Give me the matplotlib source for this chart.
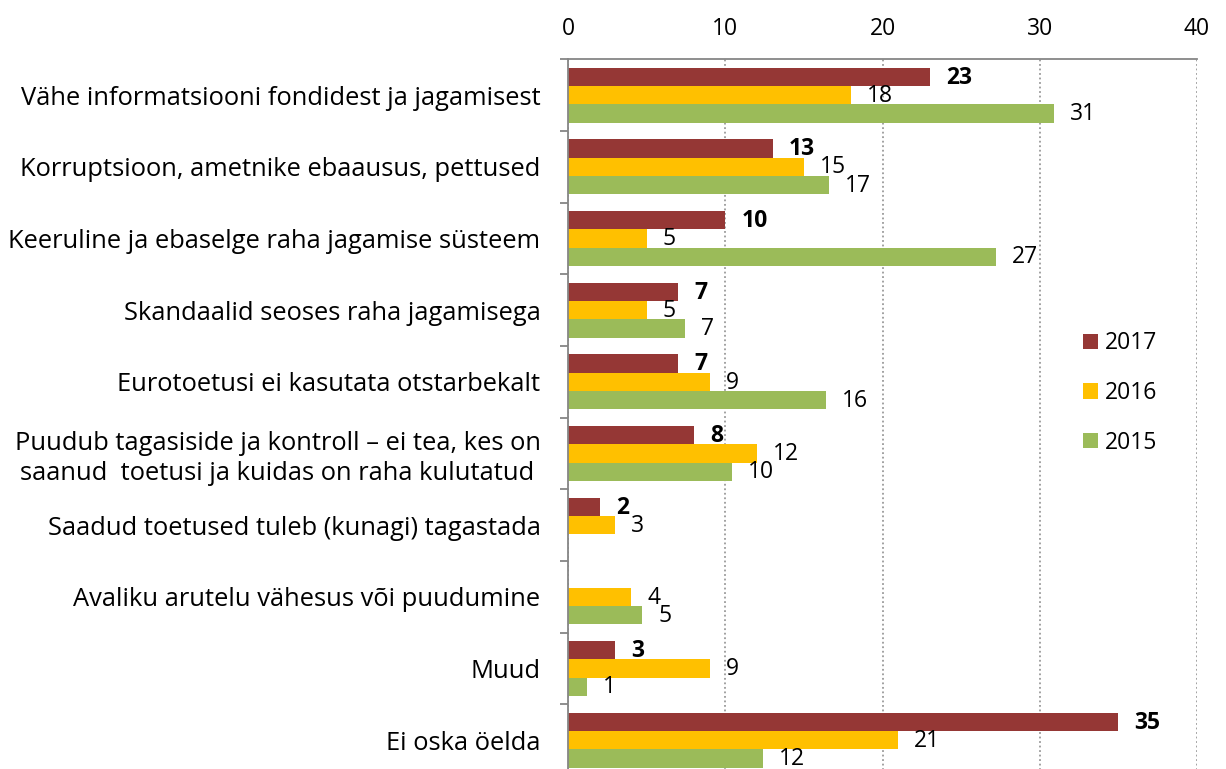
import matplotlib
matplotlib.use("Agg")
import matplotlib.pyplot as plt
import numpy as np

categories = [
    "Vähe informatsiooni fondidest ja jagamisest",
    "Korruptsioon, ametnike ebaausus, pettused",
    "Keeruline ja ebaselge raha jagamise süsteem",
    "Skandaalid seoses raha jagamisega",
    "Eurotoetusi ei kasutata otstarbekalt",
    "Puudub tagasiside ja kontroll – ei tea, kes on\nsaanud  toetusi ja kuidas on raha kulutatud",
    "Saadud toetused tuleb (kunagi) tagastada",
    "Avaliku arutelu vähesus või puudumine",
    "Muud",
    "Ei oska öelda",
]
years = ["2017", "2016", "2015"]
v2017 = [23.0, 13.0, 10.0, 7.0, 7.0, 8.0, 2.0, np.nan, 3.0, 35.0]
v2016 = [18.0, 15.0, 5.0, 5.0, 9.0, 12.0, 3.0, 4.0, 9.0, 21.0]
v2015 = [30.9, 16.6, 27.2, 7.4, 16.4, 10.4, np.nan, 4.7, 1.2, 12.4]
colors = ["#953735", "#FFC000", "#9BBB59"]
xticks = [0, 10, 20, 30, 40]

plt.rcParams['font.family'] = ['Open Sans', 'DejaVu Sans']
FS = 18.4
VFS = 16.5

fig = plt.figure(figsize=(12.26, 7.69), dpi=100)
ax = fig.add_axes([568.3 / 1226, 1 - 776 / 769, (1197 - 568.3) / 1226, (776 - 59.3) / 769])

n = len(categories)
y = np.arange(n)
h = 0.255
series = [v2017, v2016, v2015]
for k, (vals, col, yr) in enumerate(zip(series, colors, years)):
    pos = y + (k - 1) * h
    arr = np.array(vals, dtype=float)
    ax.barh(pos, np.nan_to_num(arr), height=h, color=col, label=yr, edgecolor='none')
    for p, v in zip(pos, arr):
        if np.isnan(v):
            continue
        ax.annotate(f"{v:.0f}", xy=(v, p), xytext=(11.5, -0.5), textcoords='offset points',
                    ha='left', va='center', fontsize=VFS,
                    fontweight='bold' if k == 0 else 'normal', color='black')

ax.set_xlim(0, 40)
ax.set_ylim(n - 0.5, -0.5)
ax.xaxis.tick_top()
ax.set_xticks(xticks)
ax.set_xticklabels([str(t) for t in xticks], fontsize=VFS)
ax.tick_params(axis='x', length=0, pad=13)
ax.set_yticks(y)
ax.set_yticklabels(categories, fontsize=FS)
for lbl in ax.get_yticklabels():
    lbl.set_multialignment('center')
    lbl.set_linespacing(1.25)
ax.tick_params(axis='y', which='major', length=0, pad=20)
ax.set_yticks(np.arange(n + 1) - 0.5, minor=True)
ax.tick_params(axis='y', which='minor', length=6, width=1.3, color='#868686', direction='out')

ax.grid(axis='x', linestyle=(0, (1, 1.5)), color='#9a9a9a', linewidth=1.3)
ax.set_axisbelow(True)
for s in ['right', 'bottom']:
    ax.spines[s].set_visible(False)
for s in ['left', 'top']:
    ax.spines[s].set_color('#868686')
    ax.spines[s].set_linewidth(1.3)

leg = ax.legend(loc='center left', bbox_to_anchor=(1083 / 1226, 1 - 393 / 769),
                bbox_transform=fig.transFigure, frameon=False, fontsize=VFS,
                handlelength=0.65, handleheight=0.65, handletextpad=0.3,
                labelspacing=1.12, borderpad=0, borderaxespad=0)

fig.savefig("out.png", dpi=100)
